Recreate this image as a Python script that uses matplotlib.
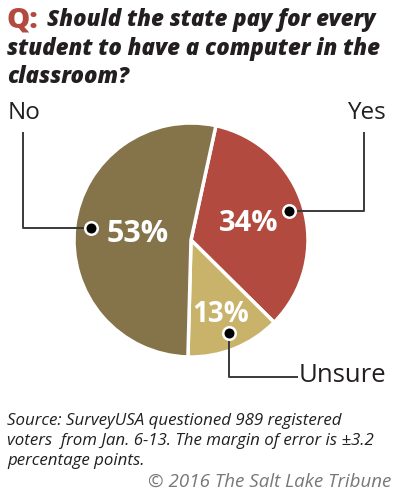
import numpy as np
import matplotlib.pyplot as plt

# === Dados ===
labels = ['Yes', 'Unsure', 'No']
values = [34, 13, 53]
colors = ['#b34a3f', '#c9b36b', '#85744a']
pct_labels = ['34%', '13%', '53%']

title_q = 'Q:'
title_lines = ['Should the state pay for every',
               'student to have a computer in the',
               'classroom?']
source_lines = ['Source: SurveyUSA questioned 989 registered',
                'voters  from Jan. 6-13. The margin of error is \u00b13.2',
                'percentage points.']
credit = '\u00a9 2016 The Salt Lake Tribune'

# === Figura (coordenadas em pixels, y para cima) ===
W, H = 398, 500
fig = plt.figure(figsize=(W / 100, H / 100), dpi=100)
ax = fig.add_axes([0, 0, 1, 1])
ax.set_xlim(0, W)
ax.set_ylim(0, H)
ax.axis('off')

cx, cy, R = 191, H - 240, 117
start = 77.7
wedges, _ = ax.pie(values, colors=colors, startangle=start, counterclock=False,
                   center=(cx, cy), radius=R,
                   wedgeprops=dict(edgecolor='white', linewidth=2.5))
ax.set_xlim(0, W)
ax.set_ylim(0, H)
ax.set_aspect('equal')

font = 'Open Sans'
dark = '#231f20'

# rótulos de porcentagem e pontos
pct_r = [0.51, 0.69, 0.46]
dot_r = [0.87, 0.86, 0.86]
pct_size = [21, 20, 22]
for w, p, pr, fs in zip(wedges, pct_labels, pct_r, pct_size):
    ang = np.deg2rad((w.theta1 + w.theta2) / 2)
    ax.text(cx + pr * R * np.cos(ang), cy + pr * R * np.sin(ang), p,
            color='white', fontsize=fs, fontweight='bold', family=font,
            ha='center', va='center')

def dot_pos(i):
    w = wedges[i]
    ang = np.deg2rad((w.theta1 + w.theta2) / 2)
    return cx + dot_r[i] * R * np.cos(ang), cy + dot_r[i] * R * np.sin(ang)

line_kw = dict(color='#3a3a3a', lw=1.4, solid_capstyle='butt', zorder=3)
# Yes
x0, y0 = dot_pos(0)
ax.plot([x0, 364, 364], [y0, y0, H - 132], **line_kw)
ax.text(366, H - 113, 'Yes', fontsize=17.5, family=font, color=dark, ha='center', va='center')
# Unsure
x0, y0 = dot_pos(1)
ax.plot([x0, x0, 298], [y0, H - 377, H - 377], **line_kw)
ax.text(299, H - 376, 'Unsure', fontsize=18.5, family=font, color=dark, ha='left', va='center')
# No
x0, y0 = dot_pos(2)
ax.plot([x0, 23, 23], [y0, y0, H - 132], **line_kw)
ax.text(24, H - 113, 'No', fontsize=17.5, family=font, color=dark, ha='center', va='center')

for i in range(3):
    x0, y0 = dot_pos(i)
    ax.plot(x0, y0, 'o', ms=9, mfc='black', mec='white', mew=1.8, zorder=4)

# === Título ===
ax.text(6, H - 20, title_q, fontsize=21, fontweight='heavy', family=font,
        color='#b34a3f', va='center', ha='left')
ax.text(47, H - 20, title_lines[0], fontsize=16, fontweight='heavy', style='italic',
        family=font, color=dark, va='center', ha='left')
for k, line in enumerate(title_lines[1:]):
    ax.text(7, H - 49 - 28 * k, line, fontsize=16, fontweight='heavy', style='italic',
            family=font, color=dark, va='center', ha='left')

# === Rodapé ===
for k, line in enumerate(source_lines):
    ax.text(7, H - 421 - 20 * k, line, fontsize=12.2, style='italic', family=font,
            color=dark, va='center', ha='left')
ax.text(391, H - 482, credit, fontsize=13.5, style='italic', family=font,
        color='#777777', va='center', ha='right')

fig.savefig('out.png', dpi=100)
